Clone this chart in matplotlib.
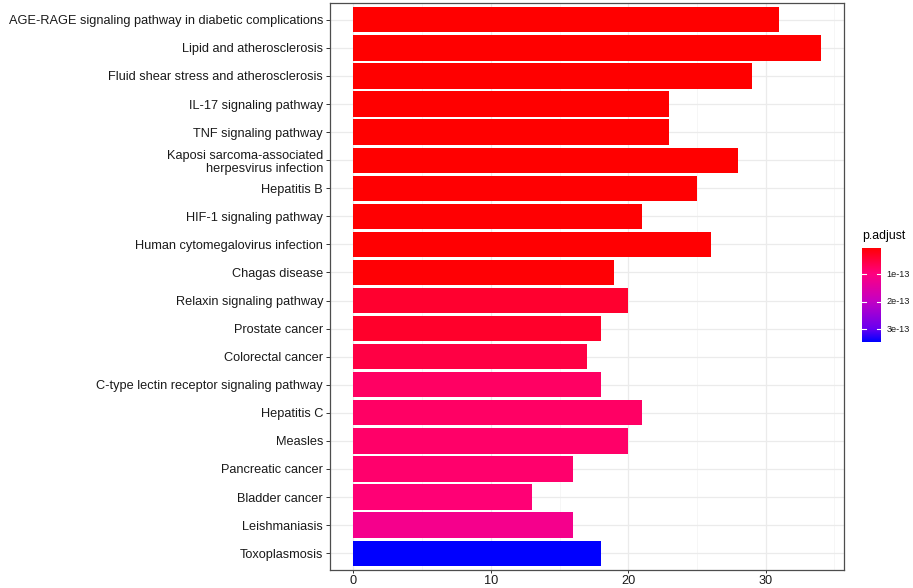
import numpy as np
import matplotlib
matplotlib.use("Agg")
import matplotlib.pyplot as plt
from matplotlib.colors import LinearSegmentedColormap, Normalize

plt.rcParams['font.family'] = ['Liberation Sans', 'DejaVu Sans']

terms = [
    "AGE-RAGE signaling pathway in diabetic complications",
    "Lipid and atherosclerosis",
    "Fluid shear stress and atherosclerosis",
    "IL-17 signaling pathway",
    "TNF signaling pathway",
    "Kaposi sarcoma-associated\nherpesvirus infection",
    "Hepatitis B",
    "HIF-1 signaling pathway",
    "Human cytomegalovirus infection",
    "Chagas disease",
    "Relaxin signaling pathway",
    "Prostate cancer",
    "Colorectal cancer",
    "C-type lectin receptor signaling pathway",
    "Hepatitis C",
    "Measles",
    "Pancreatic cancer",
    "Bladder cancer",
    "Leishmaniasis",
    "Toxoplasmosis",
]
counts = [31, 34, 29, 23, 23, 28, 25, 21, 26, 19, 20, 18, 17, 18, 21, 20, 16, 13, 16, 18]
p_adjust = [3.5e-15, 3.6e-15, 3.8e-15, 4.0e-15, 4.2e-15, 4.5e-15, 5.0e-15, 5.5e-15, 6.0e-15, 8.0e-15,
            3.9e-14, 3.7e-14, 5.5e-14, 7.8e-14, 8.0e-14, 8.2e-14, 8.5e-14, 9.1e-14, 1.17e-13, 3.48e-13]
x_ticks = [0, 10, 20, 30]
x_minor = [5, 15, 25, 35]
cbar_ticks = [1e-13, 2e-13, 3e-13]
cbar_labels = ["1e-13", "2e-13", "3e-13"]

# gradient low (red) -> high (blue), matched to the reference legend
cmap = LinearSegmentedColormap.from_list(
    "padj", [(0.0, "#FF0000"), (0.28, "#FF0080"), (0.57, "#C400C4"),
             (0.86, "#6A00F0"), (1.0, "#0000FF")])
norm = Normalize(vmin=min(p_adjust), vmax=max(p_adjust))

W, H = 913, 588
fig = plt.figure(figsize=(W / 100, H / 100), dpi=100)
ax = fig.add_axes([330 / W, 1 - 570 / H, (844 - 330) / W, (570 - 3) / H])

n = len(terms)
ypos = np.arange(n)[::-1] + 1  # first term on top
colors = [cmap(norm(v)) for v in p_adjust]
ax.barh(ypos, counts, height=0.9, color=colors, edgecolor='none', zorder=2)

ax.set_ylim(0.4, n + 0.6)
xmax = max(counts)
ax.set_xlim(-0.05 * xmax, xmax * 1.05)
ax.set_yticks(ypos)
ax.set_yticklabels(terms, fontsize=9.2, color='#1a1a1a', linespacing=1.15)
ax.set_xticks(x_ticks)
ax.set_xticklabels([str(t) for t in x_ticks], fontsize=9.2, color='#1a1a1a')
ax.set_xticks(x_minor, minor=True)
ax.grid(True, which='major', color='#EBEBEB', lw=0.9, zorder=0)
ax.grid(True, which='minor', axis='x', color='#F3F3F3', lw=0.5, zorder=0)
ax.tick_params(axis='y', which='major', length=3, width=0.7, color='#333333', pad=2)
ax.tick_params(axis='x', which='major', length=2.5, width=0.7, color='#333333', pad=1)
ax.tick_params(axis='x', which='minor', length=0)
for s in ax.spines.values():
    s.set_color('#4d4d4d')
    s.set_linewidth(0.9)
ax.set_axisbelow(True)

# colorbar legend
cax = fig.add_axes([862.3 / W, 1 - 342.3 / H, (881 - 862.3) / W, (342.3 - 247.7) / H])
grad = np.linspace(norm.vmin, norm.vmax, 300).reshape(-1, 1)
cax.imshow(grad, aspect='auto', cmap=cmap, norm=norm, origin='lower',
           extent=[0, 1, norm.vmin, norm.vmax])
cax.set_xlim(0, 1)
cax.set_ylim(norm.vmax, norm.vmin)
for s in cax.spines.values():
    s.set_visible(False)
cax.set_xticks([])
cax.set_yticks([])
for tv, tl in zip(cbar_ticks, cbar_labels):
    cax.plot([0, 0.2], [tv, tv], color='white', lw=0.8)
    cax.plot([0.8, 1], [tv, tv], color='white', lw=0.8)
    cax.text(1.3, tv, tl, fontsize=6.6, color='#1a1a1a', va='center', ha='left')
cax.text(0, norm.vmin - (norm.vmax - norm.vmin) * 0.06, "p.adjust", fontsize=8.8,
         color='black', ha='left', va='bottom')

fig.savefig("out.png", dpi=100)
